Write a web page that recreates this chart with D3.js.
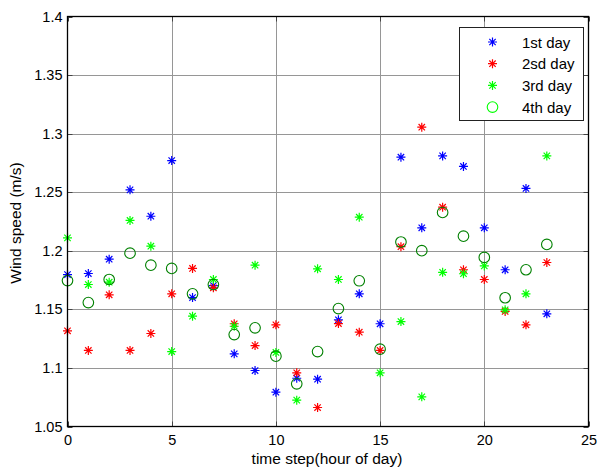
<!DOCTYPE html>
<html>
<head>
<meta charset="utf-8">
<script src="https://cdn.jsdelivr.net/npm/d3@7"></script>
<style>
  body { margin: 0; background: #fff; }
  text { font-family: "Liberation Sans", Arial, sans-serif; fill: #000; }
</style>
</head>
<body>
<div id="chart"></div>
<script>
// hours 0..23
const hours = d3.range(0, 24);

const day1 = [1.1797, 1.1806, 1.1928, 1.252, 1.2295, 1.277, 1.1601, 1.1703, 1.112, 1.0978, 1.0793, 1.0912,
              1.0904, 1.1411, 1.1633, 1.1377, 1.2799, 1.2196, 1.281, 1.272, 1.2196, 1.1838, 1.2532, 1.1462];
const day2 = [1.1317, 1.1149, 1.1624, 1.1149, 1.1294, 1.1633, 1.1849, 1.1684, 1.1377, 1.1191, 1.1368, 1.0958,
              1.0662, 1.1379, 1.1305, 1.1149, 1.2035, 1.3055, 1.2372, 1.1838, 1.1755, 1.1482, 1.1368, 1.19];
const day3 = [1.211, 1.1712, 1.1732, 1.2259, 1.2039, 1.114, 1.1442, 1.1755, 1.1356, 1.1877, 1.1132, 1.0725,
              1.1846, 1.1755, 1.2287, 1.0958, 1.1396, 1.0753, 1.1816, 1.1804, 1.1871, 1.1496, 1.1633, 1.281];
const day4 = [1.1746, 1.1558, 1.1755, 1.198, 1.1877, 1.1849, 1.1633, 1.1712, 1.1285, 1.1342, 1.11, 1.0864,
              1.114, 1.1507, 1.1744, 1.116, 1.2075, 1.2001, 1.2327, 1.2125, 1.1943, 1.1599, 1.1838, 1.2054];

const seriesNames = ['1st day', '2sd day', '3rd day', '4th day'];
const xTicks = [0, 5, 10, 15, 20, 25];
const yTicks = [1.05, 1.1, 1.15, 1.2, 1.25, 1.3, 1.35, 1.4];

const W = 597, H = 472;
const pl = 67.5, pr = 588.5, pt = 16.5, pb = 426.5;
const font = '"Liberation Sans", Arial, sans-serif';

const svg = d3.select('#chart').append('svg')
  .attr('width', W)
  .attr('height', H);

const x = d3.scaleLinear().domain([0, 25]).range([pl, pr]);
const y = d3.scaleLinear().domain([1.05, 1.4]).range([pb, pt]);

// grid
const grid = svg.append('g').attr('stroke', '#969696').attr('stroke-width', 1);
grid.selectAll('line.vx').data(xTicks.slice(1, -1)).enter().append('line')
  .attr('x1', d => Math.round(x(d)) + 0.5).attr('x2', d => Math.round(x(d)) + 0.5)
  .attr('y1', pt).attr('y2', pb);
grid.selectAll('line.hy').data(yTicks.slice(1, -1)).enter().append('line')
  .attr('y1', d => Math.round(y(d)) + 0.5).attr('y2', d => Math.round(y(d)) + 0.5)
  .attr('x1', pl).attr('x2', pr);

// inward ticks on all four sides
const tk = svg.append('g').attr('stroke', '#444').attr('stroke-width', 1);
xTicks.forEach(t => {
  const px = Math.round(x(t)) + 0.5;
  tk.append('line').attr('x1', px).attr('x2', px).attr('y1', pb).attr('y2', pb - 5);
  tk.append('line').attr('x1', px).attr('x2', px).attr('y1', pt).attr('y2', pt + 5);
});
yTicks.forEach(t => {
  const py = Math.round(y(t)) + 0.5;
  tk.append('line').attr('y1', py).attr('y2', py).attr('x1', pl).attr('x2', pl + 5);
  tk.append('line').attr('y1', py).attr('y2', py).attr('x1', pr).attr('x2', pr - 5);
});

// tick labels
const xAxis = d3.axisBottom(x).tickValues(xTicks).tickSize(0).tickPadding(8).tickFormat(d3.format('d'));
svg.append('g').attr('transform', `translate(0,${pb})`).call(xAxis)
  .call(g => g.select('.domain').remove())
  .selectAll('text').attr('font-size', 14.5).attr('font-family', font);

const yAxis = d3.axisLeft(y).tickValues(yTicks).tickSize(0).tickPadding(5).tickFormat(d => String(+d.toFixed(2)));
svg.append('g').attr('transform', `translate(${pl},0)`).call(yAxis)
  .call(g => g.select('.domain').remove())
  .selectAll('text').attr('font-size', 14.5).attr('font-family', font);

// markers
const star = 'M-4.5,0H4.5M0,-4.5V4.5M-3.2,-3.2L3.2,3.2M-3.2,3.2L3.2,-3.2';
const plotStars = (vals, color) => {
  svg.append('g').selectAll('path').data(vals).enter().append('path')
    .attr('d', star)
    .attr('transform', (d, i) => `translate(${x(hours[i])},${y(d)})`)
    .attr('fill', 'none').attr('stroke', color).attr('stroke-width', 1.2);
};
plotStars(day1, '#0000ff');
plotStars(day2, '#ff0000');
plotStars(day3, '#00ff00');

svg.append('g').selectAll('circle').data(day4).enter().append('circle')
  .attr('cx', (d, i) => x(hours[i])).attr('cy', d => y(d)).attr('r', 5.3)
  .attr('fill', 'none').attr('stroke', '#008000').attr('stroke-width', 1.1);

// frame
svg.append('rect').attr('x', pl).attr('y', pt)
  .attr('width', pr - pl).attr('height', pb - pt)
  .attr('fill', 'none').attr('stroke', '#000').attr('stroke-width', 1.3);

// legend
const lg = svg.append('g');
lg.append('rect').attr('x', 459.5).attr('y', 27.5).attr('width', 124).attr('height', 93)
  .attr('fill', '#fff').attr('stroke', '#222').attr('stroke-width', 1);
const lgColors = ['#0000ff', '#ff0000', '#00ff00', '#00ff00'];
seriesNames.forEach((name, i) => {
  const ly = 42 + i * 21.7;
  if (i < 3) {
    lg.append('path').attr('d', star).attr('transform', `translate(492.5,${ly})`)
      .attr('fill', 'none').attr('stroke', lgColors[i]).attr('stroke-width', 1.2);
  } else {
    lg.append('circle').attr('cx', 492.5).attr('cy', ly).attr('r', 5.3)
      .attr('fill', 'none').attr('stroke', lgColors[i]).attr('stroke-width', 1.1);
  }
  lg.append('text').attr('x', 522).attr('y', ly + 5.5).attr('font-size', 15).text(name);
});

// axis titles
svg.append('text').attr('x', 327).attr('y', 464)
  .attr('text-anchor', 'middle').attr('font-size', 15.5).text('time step(hour of day)');
svg.append('text').attr('transform', 'translate(21,223) rotate(-90)')
  .attr('text-anchor', 'middle').attr('font-size', 15.5).text('Wind speed (m/s)');
</script>
</body>
</html>
